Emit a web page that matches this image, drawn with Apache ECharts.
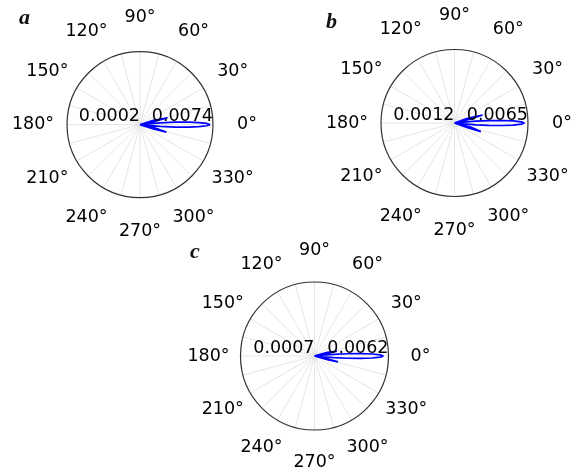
<!DOCTYPE html>
<html>
<head>
<meta charset="utf-8">
<script src="https://cdn.jsdelivr.net/npm/echarts@6/dist/echarts.min.js"></script>
<style>
  html, body { margin: 0; padding: 0; background: #fff; }
  #chart { width: 573px; height: 471px; }
</style>
</head>
<body>
<div id="chart"></div>
<script>
// Angle ticks shown around each polar plot (degrees)
const angleTicks = [0, 30, 60, 90, 120, 150, 180, 210, 240, 270, 300, 330];
// Sample angles (degrees) of the radiation patterns
const patternAngles = [-24, -22, -20, -18, -16, -14, -12, -10, -8, -6, -5, -4, -3, -2, -1, 0,
                       1, 2, 3, 4, 5, 6, 8, 10, 12, 14, 16, 18, 20, 22, 24];
// Panel a
const rangeA = [0.0002, 0.0074];
const valuesA = [0.0002, 0.0002, 0.0003, 0.0016, 0.0029, 0.0030, 0.0016, 0.0003, 0.0002, 0.0009, 0.0022,
                 0.0037, 0.0050, 0.0060, 0.0068, 0.0071,
                 0.0068, 0.0060, 0.0050, 0.0037, 0.0022, 0.0009, 0.0002, 0.0003, 0.0016, 0.0030, 0.0029,
                 0.0016, 0.0003, 0.0002, 0.0002];
// Panel b
const rangeB = [0.0012, 0.0065];
const valuesB = [0.0012, 0.0013, 0.0022, 0.0032, 0.0033, 0.0024, 0.0014, 0.0012, 0.0012, 0.00184, 0.00274,
                 0.00369, 0.00465, 0.00544, 0.00602, 0.00624,
                 0.00602, 0.00544, 0.00465, 0.00369, 0.00274, 0.00184, 0.0012, 0.0012, 0.0014, 0.0024, 0.0033,
                 0.0032, 0.0022, 0.0013, 0.0012];
// Panel c
const rangeC = [0.0007, 0.0062];
const valuesC = [0.0007, 0.0007, 0.0007, 0.0008, 0.0017, 0.0025, 0.0024, 0.0012, 0.0007, 0.00125, 0.00213,
                 0.00312, 0.00411, 0.00499, 0.0056, 0.00582,
                 0.0056, 0.00499, 0.00411, 0.00312, 0.00213, 0.00125, 0.0007, 0.0012, 0.0024, 0.0025, 0.0017,
                 0.0008, 0.0007, 0.0007, 0.0007];
const panelLetters = ['a', 'b', 'c'];

const panels = [
  { center: [140, 124.6], r: 73, lr: 107, range: rangeA, values: valuesA, letter: [19, 18.5] },
  { center: [454.5, 123], r: 73.5, lr: 107.5, range: rangeB, values: valuesB, letter: [326, 22.5] },
  { center: [314.5, 356], r: 74, lr: 106, range: rangeC, values: valuesC, letter: [190, 252.5] }
];

const FONT = 'DejaVu Sans';
const FS = 17.5;

const option = { animation: false, polar: [], angleAxis: [], radiusAxis: [], series: [], graphic: [] };

panels.forEach((p, i) => {
  const pi = option.polar.length;
  option.polar.push({ center: p.center, radius: p.r });
  option.polar.push({ center: p.center, radius: p.lr });
  option.angleAxis.push({
    polarIndex: pi, type: 'value', min: 0, max: 360, interval: 15, startAngle: 0, clockwise: false,
    axisLine: { show: true, lineStyle: { color: '#333', width: 1.2 } },
    axisTick: { show: false }, axisLabel: { show: false },
    splitLine: { show: true, lineStyle: { color: '#e2e2e2', width: 0.9 } }
  });
  option.angleAxis.push({
    polarIndex: pi + 1, type: 'value', min: 0, max: 360, startAngle: 0, clockwise: false, show: false
  });
  const mn = p.range[0], mx = p.range[1];
  option.radiusAxis.push({
    polarIndex: pi, type: 'value', min: mn, max: mx,
    axisLine: { show: false }, axisTick: { show: false }, splitLine: { show: false },
    axisLabel: {
      show: true, showMinLabel: true, showMaxLabel: true,
      align: 'right', verticalAlign: 'bottom', margin: -1,
      color: '#000', fontSize: FS, fontFamily: FONT,
      formatter: v => (Math.abs(v - mn) < 1e-9 || Math.abs(v - mx) < 1e-9) ? v.toFixed(4) : ''
    },
    z: 10
  });
  option.radiusAxis.push({ polarIndex: pi + 1, type: 'value', min: 0, max: 1, show: false });

  option.series.push({
    type: 'line', coordinateSystem: 'polar', polarIndex: pi,
    data: patternAngles.map((a, k) => [p.values[k], a]),
    showSymbol: false, symbol: 'none', smooth: false,
    lineStyle: { color: '#0000ff', width: 1.7 }, z: 3
  });
  option.series.push({
    type: 'scatter', coordinateSystem: 'polar', polarIndex: pi + 1,
    data: angleTicks.map(a => [1, a]),
    symbolSize: 0, itemStyle: { color: '#000', opacity: 1 },
    label: {
      show: true, position: 'inside', color: '#000', opacity: 1,
      textBorderWidth: 0, fontSize: FS, fontFamily: FONT,
      formatter: q => q.value[1] + '°'
    }
  });
  option.graphic.push({
    type: 'text', x: p.letter[0], y: p.letter[1],
    style: {
      text: panelLetters[i], fill: '#111', align: 'left', verticalAlign: 'middle',
      font: 'italic bold 22px "Liberation Serif"'
    }
  });
});

const chart = echarts.init(document.getElementById('chart'), null, { renderer: 'canvas' });
chart.setOption(option);
</script>
</body>
</html>
